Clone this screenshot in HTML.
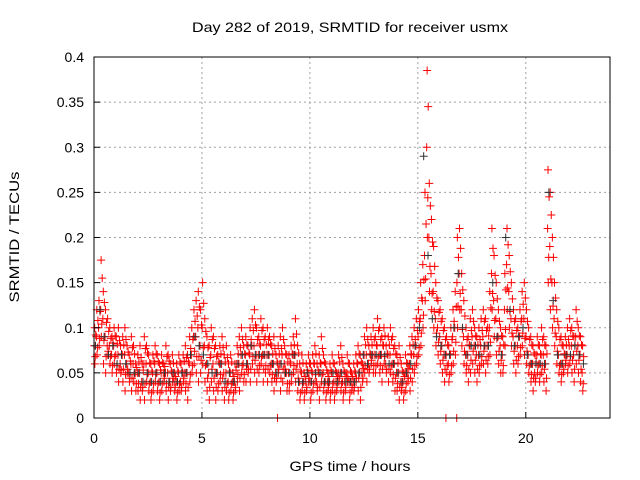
<!DOCTYPE html>
<html><head><meta charset="utf-8"><style>
body{margin:0;background:#fff}
svg{display:block;font-family:"Liberation Sans",sans-serif}
</style></head><body>
<svg id="chart" width="640" height="480" viewBox="0 0 640 480">
<rect width="640" height="480" fill="#fff"/>
<g id="grid"></g>
<g id="marks"></g>
<g id="axes"></g>
<text x="350" y="32" font-size="14" text-anchor="middle" textLength="316" lengthAdjust="spacingAndGlyphs">Day 282 of 2019, SRMTID for receiver usmx</text>
<text transform="translate(19,237) rotate(-90)" font-size="14" text-anchor="middle" textLength="131" lengthAdjust="spacingAndGlyphs">SRMTID / TECUs</text>
<text x="350" y="471" font-size="14" text-anchor="middle" textLength="121" lengthAdjust="spacingAndGlyphs">GPS time / hours</text>
</svg>
<script>
const startHour = 0;
const stepHours = 0.1;
const redHi = [
.10,.12,.13,.175,.14,.12,.11,.10,.09,.10,
.09,.10,.08,.09,.10,.08,.07,.09,.08,.06,
.07,.08,.06,.09,.08,.07,.06,.07,.08,.07,
.06,.07,.06,.08,.07,.06,.07,.05,.06,.07,
.06,.07,.08,.07,.09,.10,.12,.13,.14,.12,
.15,.11,.09,.08,.10,.09,.08,.07,.08,.09,
.07,.08,.06,.07,.05,.06,.08,.09,.10,.08,
.09,.08,.10,.11,.12,.10,.09,.11,.10,.09,
.10,.09,.08,.09,.07,.08,.09,.10,.08,.07,
.07,.08,.09,.11,.08,.06,.07,.05,.06,.07,
.06,.07,.08,.06,.07,.09,.07,.06,.05,.06,
.07,.06,.05,.07,.08,.06,.05,.07,.06,.05,
.06,.07,.08,.07,.06,.09,.10,.08,.09,.10,
.09,.11,.10,.09,.10,.08,.09,.10,.09,.08,
.07,.08,.06,.05,.07,.06,.08,.09,.10,.11,
.12,.15,.17,.25,.385,.26,.22,.19,.15,.13,
.12,.11,.10,.09,.08,.10,.12,.14,.20,.21,
.16,.13,.10,.09,.11,.12,.10,.09,.10,.11,
.12,.11,.10,.14,.21,.18,.15,.12,.10,.09,
.16,.21,.18,.15,.12,.11,.10,.12,.14,.15,
.12,.10,.09,.08,.07,.09,.08,.10,.09,.08,
.275,.25,.20,.15,.12,.10,.09,.08,.09,.10,
.11,.10,.09,.12,.10,.09,.08];
const redQ2 = [
.092,.108,.118,.155,.128,.106,.096,.088,.083,.091,
.082,.086,.071,.081,.087,.073,.063,.078,.071,.056,
.062,.067,.053,.077,.072,.061,.052,.063,.071,.062,
.053,.061,.057,.068,.063,.052,.061,.046,.052,.062,
.052,.063,.067,.062,.077,.087,.107,.113,.123,.103,
.127,.096,.078,.067,.087,.077,.068,.062,.071,.078,
.062,.067,.052,.062,.046,.053,.071,.078,.087,.071,
.081,.072,.087,.097,.103,.087,.082,.097,.087,.081,
.087,.082,.071,.077,.062,.071,.077,.087,.071,.062,
.062,.071,.081,.093,.072,.052,.061,.046,.053,.061,
.052,.061,.071,.053,.061,.077,.062,.053,.046,.052,
.061,.052,.046,.062,.067,.052,.046,.061,.052,.046,
.052,.061,.071,.062,.055,.081,.087,.071,.081,.087,
.081,.097,.087,.081,.091,.071,.081,.087,.077,.071,
.061,.067,.052,.046,.061,.055,.071,.081,.087,.097,
.107,.133,.153,.215,.345,.235,.195,.168,.133,.117,
.107,.097,.087,.081,.071,.087,.107,.123,.178,.188,
.142,.113,.087,.081,.097,.107,.091,.081,.087,.097,
.107,.097,.091,.122,.188,.158,.132,.107,.091,.081,
.142,.192,.162,.132,.107,.097,.091,.107,.126,.133,
.107,.087,.081,.072,.062,.081,.071,.087,.081,.071,
.245,.225,.178,.133,.107,.087,.081,.071,.081,.087,
.097,.091,.081,.107,.091,.081,.068];
const redMid = [
.08,.09,.10,.12,.11,.09,.08,.08,.07,.08,
.07,.07,.06,.07,.07,.06,.05,.06,.06,.05,
.05,.05,.04,.06,.06,.05,.04,.05,.06,.05,
.04,.05,.05,.05,.05,.04,.05,.04,.04,.05,
.04,.05,.05,.05,.06,.07,.09,.09,.10,.08,
.10,.08,.06,.05,.07,.06,.05,.05,.06,.06,
.05,.05,.04,.05,.04,.04,.06,.06,.07,.06,
.07,.06,.07,.08,.08,.07,.07,.08,.07,.07,
.07,.07,.06,.06,.05,.06,.06,.07,.06,.05,
.05,.06,.07,.07,.06,.04,.05,.04,.04,.05,
.04,.05,.06,.04,.05,.06,.05,.04,.04,.04,
.05,.04,.04,.05,.05,.04,.04,.05,.04,.04,
.04,.05,.06,.05,.05,.07,.07,.06,.07,.07,
.07,.08,.07,.07,.08,.06,.07,.07,.06,.06,
.05,.05,.04,.04,.05,.05,.06,.07,.07,.08,
.09,.11,.13,.18,.30,.20,.16,.14,.11,.10,
.09,.08,.07,.07,.06,.07,.09,.10,.15,.16,
.12,.09,.07,.07,.08,.09,.08,.07,.07,.08,
.09,.08,.08,.10,.16,.13,.11,.09,.08,.07,
.12,.17,.14,.11,.09,.08,.08,.09,.11,.11,
.09,.07,.06,.06,.05,.07,.06,.07,.07,.06,
.21,.19,.15,.11,.09,.07,.06,.06,.07,.07,
.08,.08,.07,.09,.08,.07,.05];
const redQ1 = [
.068,.078,.088,.104,.086,.068,.074,.068,.058,.068,
.058,.054,.053,.054,.048,.054,.044,.044,.048,.038,
.038,.034,.034,.038,.048,.038,.028,.038,.048,.038,
.028,.038,.044,.038,.034,.034,.044,.034,.028,.038,
.034,.044,.038,.034,.048,.058,.074,.068,.068,.064,
.078,.058,.044,.034,.054,.044,.034,.038,.048,.044,
.034,.038,.028,.038,.028,.034,.048,.044,.058,.048,
.054,.054,.054,.068,.064,.054,.058,.068,.054,.058,
.054,.058,.048,.044,.044,.054,.044,.054,.054,.038,
.038,.048,.058,.054,.044,.028,.038,.028,.034,.044,
.028,.038,.048,.034,.034,.048,.038,.028,.034,.028,
.038,.028,.034,.044,.038,.028,.034,.044,.028,.034,
.034,.044,.044,.034,.044,.058,.054,.054,.064,.058,
.058,.068,.058,.054,.068,.054,.054,.058,.048,.044,
.038,.034,.034,.028,.038,.044,.044,.054,.058,.068,
.078,.094,.114,.154,.244,.168,.138,.118,.094,.084,
.074,.064,.054,.058,.048,.058,.074,.084,.124,.138,
.098,.074,.058,.054,.064,.074,.064,.054,.058,.068,
.074,.064,.068,.084,.138,.108,.088,.074,.064,.058,
.098,.144,.118,.094,.074,.064,.068,.078,.094,.088,
.074,.058,.048,.044,.044,.058,.048,.058,.054,.044,
.178,.154,.124,.094,.074,.058,.048,.054,.064,.058,
.068,.064,.054,.074,.064,.054,.038];
const redLo = [
.06,.07,.08,.09,.06,.05,.07,.06,.05,.06,
.05,.04,.05,.04,.03,.05,.04,.03,.04,.03,
.03,.02,.03,.02,.04,.03,.02,.03,.04,.03,
.02,.03,.04,.03,.02,.03,.04,.03,.02,.03,
.03,.04,.03,.02,.04,.05,.06,.05,.04,.05,
.06,.04,.03,.02,.04,.03,.02,.03,.04,.03,
.02,.03,.02,.03,.02,.03,.04,.03,.05,.04,
.04,.05,.04,.06,.05,.04,.05,.06,.04,.05,
.04,.05,.04,.03,.04,.05,.03,.04,.05,.03,
.03,.04,.05,.04,.03,.02,.03,.02,.03,.04,
.02,.03,.04,.03,.02,.04,.03,.02,.03,.02,
.03,.02,.03,.04,.03,.02,.03,.04,.02,.03,
.03,.04,.03,.02,.04,.05,.04,.05,.06,.05,
.05,.06,.05,.04,.06,.05,.04,.05,.04,.03,
.03,.02,.03,.02,.03,.04,.03,.04,.05,.06,
.07,.08,.10,.13,.20,.14,.12,.10,.08,.07,
.06,.05,.04,.05,.04,.05,.06,.07,.10,.12,
.08,.06,.05,.04,.05,.06,.05,.04,.05,.06,
.06,.05,.06,.07,.12,.09,.07,.06,.05,.05,
.08,.12,.10,.08,.06,.05,.06,.07,.08,.07,
.06,.05,.04,.03,.04,.05,.04,.05,.04,.03,
.15,.12,.10,.08,.06,.05,.04,.05,.06,.05,
.06,.05,.04,.06,.05,.04,.03];
const redZeroHours = [8.5, 16.3, 16.8];
const blackStep = 0.2;
const blackVals = [
.08,.12,.09,.07,.08, .06,.07,.06,.05,.05, .05,.04,.05,.04,.05, .04,.05,.04,.05,.04,
.05,.05,.07,.09,.08, .07,.06,.05,.05,.06, .04,.05,.04,.06,.07, .06,.08,.07,.07,.07,
.07,.06,.05,.06,.05, .05,.07,.04,.04,.05, .04,.05,.05,.04,.04, .05,.04,.05,.04,.04,
.04,.05,.07,.06,.07, .07,.07,.07,.06,.06, .05,.04,.05,.06,.08, .10,.29,.18,.11,.09,
.08,.07,.07,.10,.16, .10,.07,.08,.08,.07, .08,.08,.15,.09,.07, .20,.12,.08,.09,.10,
.07,.06,.06,.06,.06, .25,.13,.07,.06,.07, .07,.08,.07,.06];
const xTicks = [0,5,10,15,20];
const yTicks = [0,0.05,0.1,0.15,0.2,0.25,0.3,0.35,0.4];

const L=94,R=610,T=57,B=418, xMax=23.9, yMax=0.4;
const xs = h => L + h/xMax*(R-L);
const ys = v => B - v/yMax*(B-T);
const NS="http://www.w3.org/2000/svg";
function mk(tag, attrs, parent){const e=document.createElementNS(NS,tag);for(const k in attrs)e.setAttribute(k,attrs[k]);parent.appendChild(e);return e;}
const grid=document.getElementById('grid'), axes=document.getElementById('axes'), marks=document.getElementById('marks');
xTicks.forEach(t=>{
  const x=xs(t);
  if(t>0){const g=mk('line',{x1:x,y1:T,x2:x,y2:B,stroke:'#a0a0a0','stroke-dasharray':'2,3'},grid);
  
  }
  const tk=mk('line',{x1:x,y1:B,x2:x,y2:B-6,stroke:'#000'},axes);
  
  
  const lb=mk('text',{x:x,y:B+25,'font-size':14,'text-anchor':'middle'},axes);lb.textContent=t;
  
  
});
yTicks.forEach(t=>{
  const y=ys(t);
  if(t>0&&t<yMax){const g=mk('line',{x1:L,y1:y,x2:R,y2:y,stroke:'#a0a0a0','stroke-dasharray':'2,3'},grid);
  
  }
  const tk=mk('line',{x1:L,y1:y,x2:L+6,y2:y,stroke:'#000'},axes);
  
  
  const lb=mk('text',{x:L-10,y:y+5,'font-size':14,'text-anchor':'end'},axes);lb.textContent=t;
  
  
});
const frame=mk('rect',{x:L,y:T,width:R-L,height:B-T,fill:'none',stroke:'#000'},axes);


function plus(h,v,color,name){
  const x=xs(h),y=ys(v);
  const p=mk('path',{d:`M${x-4},${y}h8M${x},${y-4}v8`,stroke:color,'stroke-width':1,fill:'none'},marks);
  
  
}
redHi.forEach((v,i)=>plus(startHour+i*stepHours+0.03,v,'#ff0000','red-point'));
redQ2.forEach((v,i)=>plus(startHour+i*stepHours+0.08,v,'#ff0000','red-point'));
redMid.forEach((v,i)=>plus(startHour+i*stepHours+0.01,v,'#ff0000','red-point'));
redQ1.forEach((v,i)=>plus(startHour+i*stepHours+0.06,v,'#ff0000','red-point'));
redLo.forEach((v,i)=>plus(startHour+i*stepHours+0.04,v,'#ff0000','red-point'));
redZeroHours.forEach(h=>plus(h,0,'#ff0000','red-zero-point'));
blackVals.forEach((v,i)=>plus(startHour+i*blackStep+0.07,v,'#333','black-point'));
</script>
</body></html>
